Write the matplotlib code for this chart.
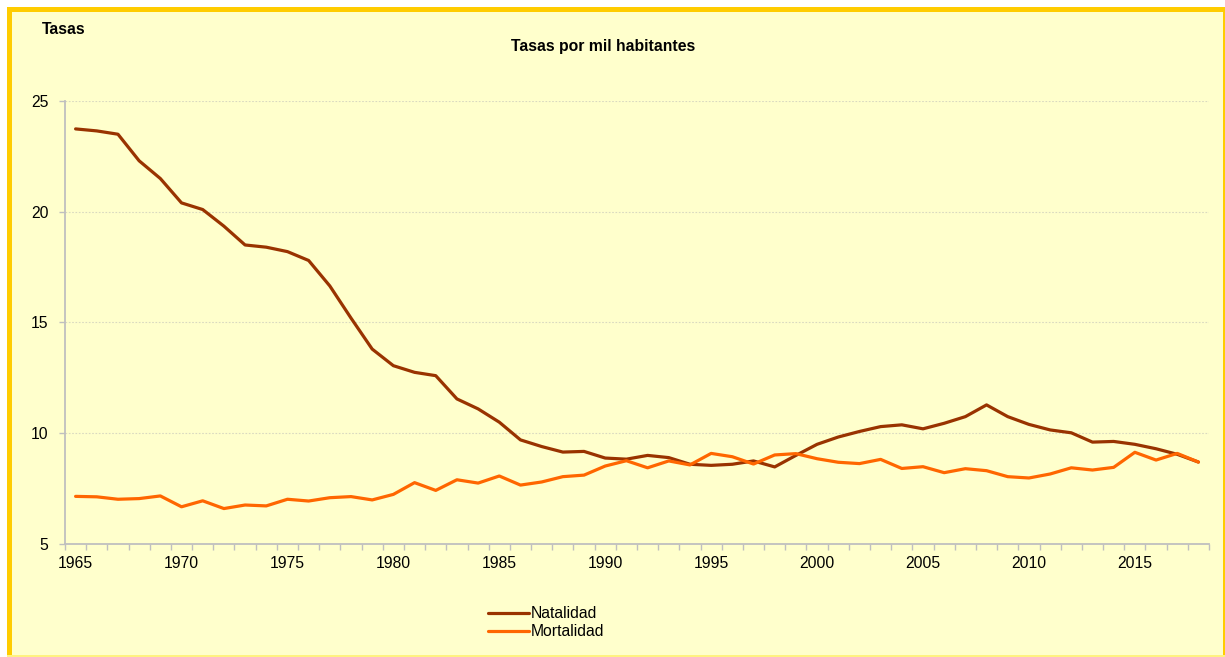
import matplotlib
matplotlib.use("Agg")
import matplotlib.pyplot as plt
from matplotlib.patches import Rectangle
from matplotlib.ticker import MultipleLocator, FixedLocator

plt.rcParams['font.family'] = ['Liberation Sans', 'DejaVu Sans']

years = list(range(1965, 2019))
natalidad = [23.74, 23.65, 23.5, 22.3, 21.5, 20.4, 20.1, 19.35, 18.5, 18.4,
             18.2, 17.8, 16.65, 15.2, 13.8, 13.05, 12.75, 12.6, 11.55, 11.1,
             10.5, 9.7, 9.4, 9.15, 9.18, 8.88, 8.83, 9.0, 8.9, 8.6,
             8.55, 8.6, 8.75, 8.48, 9.0, 9.5, 9.83, 10.08, 10.3, 10.38,
             10.2, 10.45, 10.75, 11.28, 10.75, 10.4, 10.15, 10.02, 9.6, 9.63,
             9.5, 9.3, 9.05, 8.7]
mortalidad = [7.15, 7.13, 7.02, 7.05, 7.17, 6.68, 6.95, 6.6, 6.76, 6.72,
              7.02, 6.94, 7.09, 7.14, 6.99, 7.24, 7.77, 7.42, 7.9, 7.75,
              8.07, 7.66, 7.8, 8.04, 8.11, 8.52, 8.76, 8.44, 8.75, 8.57,
              9.09, 8.94, 8.61, 9.02, 9.08, 8.85, 8.69, 8.63, 8.82, 8.41,
              8.49, 8.22, 8.4, 8.31, 8.04, 7.98, 8.16, 8.44, 8.34, 8.46,
              9.14, 8.79, 9.09, 8.7]
series_names = ["Natalidad", "Mortalidad"]
series_colors = ["#993300", "#FF6600"]
title = "Tasas por mil habitantes"
ylabel = "Tasas"

W, H = 1225, 657
fig = plt.figure(figsize=(W / 100, H / 100), dpi=100)
fig.patch.set_facecolor("white")

def fx(px):
    return px / W

def fy(py):
    return 1 - py / H

# framed background (fill only)
fig.add_artist(Rectangle((fx(7), 0), fx(1225) - fx(7), fy(7), transform=fig.transFigure,
                         facecolor="#FFFFCC", edgecolor="none", zorder=-10))
border = "#FFCC00"
# thick top and left borders
fig.add_artist(Rectangle((fx(7), fy(12)), fx(1225) - fx(7), fy(7) - fy(12),
                         transform=fig.transFigure, facecolor=border, edgecolor="none", zorder=-9))
fig.add_artist(Rectangle((fx(7), 0), fx(12) - fx(7), fy(7),
                         transform=fig.transFigure, facecolor=border, edgecolor="none", zorder=-9))
# thin right and bottom borders
fig.add_artist(Rectangle((fx(1223), 0), fx(1225) - fx(1223), fy(7),
                         transform=fig.transFigure, facecolor=border, edgecolor="none", zorder=-9))
fig.add_artist(Rectangle((fx(7), 0), fx(1225) - fx(7), fy(655),
                         transform=fig.transFigure, facecolor="#FFF280", edgecolor="none", zorder=-9))

left, right, top, bottom = 65, 1209, 101, 544
ax = fig.add_axes([fx(left), fy(bottom), fx(right) - fx(left), fy(top) - fy(bottom)])
ax.set_facecolor("none")
ax.set_zorder(2)

for vals, name, col in zip([natalidad, mortalidad], series_names, series_colors):
    ax.plot(years, vals, color=col, linewidth=2.3, label=name,
            solid_joinstyle="round", solid_capstyle="round", zorder=3)

ax.set_xlim(1964.5, 2018.5)
ax.set_ylim(5, 25)
ax.yaxis.set_major_locator(MultipleLocator(5))
ax.xaxis.set_major_locator(FixedLocator(list(range(1965, 2019, 5))))
ax.xaxis.set_minor_locator(FixedLocator([y + 0.5 for y in range(1964, 2019)]))

for s in ["top", "right"]:
    ax.spines[s].set_visible(False)
for s in ["left", "bottom"]:
    ax.spines[s].set_color("#BFBFBF")
    ax.spines[s].set_linewidth(1.3)

ax.tick_params(axis="x", which="major", length=0, pad=9, labelsize=11.3, labelcolor="black")
ax.tick_params(axis="x", which="minor", length=4.5, width=1.0, color="#BFBFBF", direction="out")
ax.tick_params(axis="y", which="major", length=4, width=1.0, color="#BFBFBF", pad=8,
               labelsize=11.3, labelcolor="black")

ax.grid(axis="y", which="major", color="#D9D9C0", linestyle=(0, (1.5, 1.5)), linewidth=0.8)
ax.set_axisbelow(True)

fig.text(fx(42), fy(29), ylabel, fontsize=11.3, fontweight="bold", va="center", ha="left")
fig.text(fx(603), fy(46), title, fontsize=11.3, fontweight="bold", va="center", ha="center")

h, l = ax.get_legend_handles_labels()
leg = fig.legend(h, l, loc="upper left", bbox_to_anchor=(fx(488), fy(606)),
                 frameon=False, fontsize=11.3, handlelength=2.6, handletextpad=0.15,
                 labelspacing=0.2, borderpad=0, borderaxespad=0)

fig.savefig("out.png", dpi=100, facecolor=fig.get_facecolor())
